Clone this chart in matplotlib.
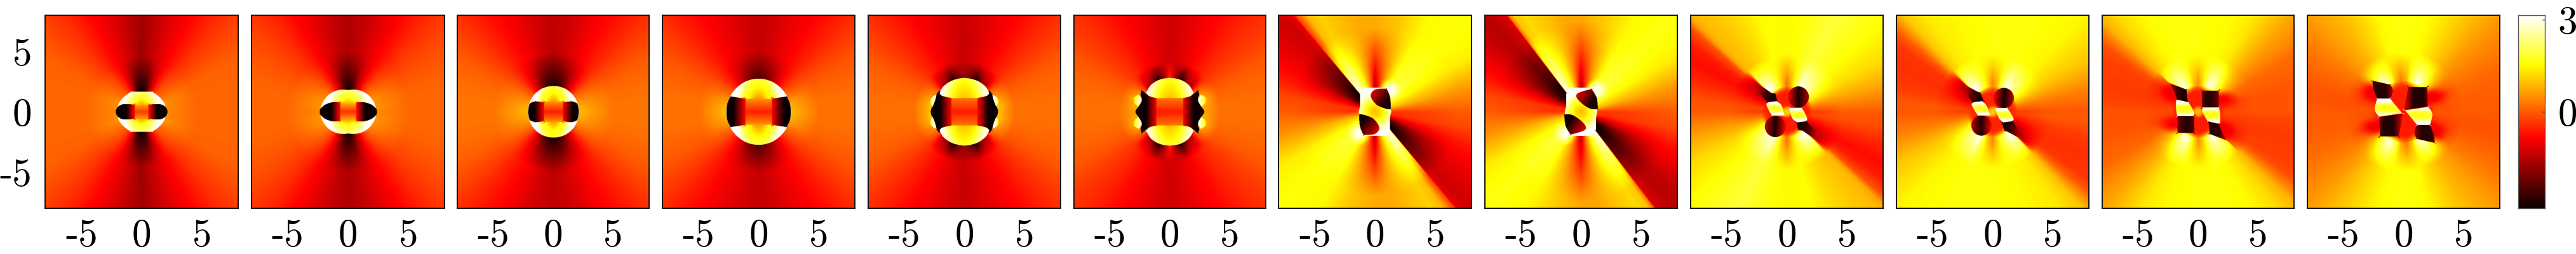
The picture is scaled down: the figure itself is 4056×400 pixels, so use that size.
import numpy as np
import matplotlib
matplotlib.use("Agg")
import matplotlib.pyplot as plt
from matplotlib.path import Path

# ---------- values (phase in radians, -pi .. pi) ----------
TICKS = [-5, 0, 5]
CBAR_TICKS = [0, 3]
VMIN, VMAX = -np.pi, np.pi

# Panels 1-6 have mirror symmetry: rim values for one quadrant, degrees from +x
QUAD_ANG = [0, 10, 20, 30, 40, 50, 60, 70, 80, 90]
P1_FAR = [.12, .12, .1, .05, -.15, -.4, -.75, -1.05, -1.4, -1.75]
P1_NEAR = [.5, .5, .6, .4, .2, .0, -.5, -1.6, -2.9, -3.1]
P2_FAR = [.12, .12, .08, -.05, -.2, -.45, -.8, -1.1, -1.4, -1.6]
P2_NEAR = [.5, .6, .6, .5, .3, .0, -.6, -1.5, -2.6, -3.0]
P3_FAR = [.25, .22, .15, .0, -.25, -.55, -.8, -1.05, -1.3, -1.45]
P3_NEAR = [.9, .8, .6, .3, -.1, -.8, -1.6, -2.4, -2.9, -3.0]
P4_FAR = [.22, .2, .1, -.05, -.3, -.6, -.85, -1.05, -1.25, -1.4]
P4_NEAR = [.9, .8, .6, .2, -.2, -.7, -1.3, -1.9, -2.3, -2.5]
P5_FAR = [.2, .18, .1, -.05, -.3, -.55, -.8, -1.0, -1.2, -1.35]
P5_NEAR = [.9, 1.0, .8, .5, -.1, -1.5, -1.9, -3.0, -2.3, -1.9]
P6_FAR = [.2, .18, .1, -.05, -.3, -.5, -.75, -.95, -1.15, -1.3]
P6_NEAR = [.7, .8, 1.0, .6, -.1, -1.5, -1.8, -3.0, -2.0, -.4]

# Panels 7-12 have point symmetry: rim values for one half turn
P7_ANG = [0, 15, 30, 45, 60, 75, 90, 100, 110, 120, 125, 129.5, 130.5, 135, 140, 150, 160, 170]
P7_FAR = [0, .6, 1.4, 1.6, 1.5, 1.0, .75, .75, .9, 1.1, .9, -.2, -1.1, -1.3, -1.2, -.95, -.65, -.2]
P7_NEAR = [-.4, .9, 1.6, 2.0, 1.8, .3, -1.6, .3, 1.7, 2.8, 3.1, 3.14, -3.14, -3.1, -3.0, -2.4, -1.2, -.4]
P8_ANG = [0, 15, 30, 45, 60, 75, 90, 100, 110, 120, 125, 127, 128, 135, 140, 150, 160, 170]
P8_FAR = [0, .6, 1.4, 1.65, 1.5, 1.05, .7, .7, .95, 1.2, 1.0, .3, -1.2, -1.5, -1.45, -1.05, -.7, -.2]
P8_NEAR = [-.4, .9, 1.6, 2.0, 1.8, .3, -1.6, .3, 1.7, 2.8, 3.1, 3.14, -3.14, -3.1, -3.0, -2.4, -1.2, -.4]
P9_ANG = [0, 13, 28, 45, 63, 80, 90, 104, 117, 127, 133, 136, 139, 145, 152, 161, 172]
P9_FAR = [0, .6, 1.2, 1.6, 1.9, 1.6, 1.5, 1.55, 1.2, 1.0, .9, .7, -.1, -.6, -.75, -.5, -.1]
P9_NEAR = [-.3, .4, 1.5, 2.6, 3.0, 1.0, .2, 1.4, 2.6, 3.1, 3.14, -2.8, -2.4, -1.8, -1.2, -.7, -.2]
P10_ANG = [0, 13, 28, 45, 63, 80, 90, 110, 125, 133, 136, 140, 145, 155, 165, 175]
P10_FAR = [-.05, .35, 1.0, 1.45, 1.6, 1.6, 1.6, 1.5, 1.35, 1.0, .6, .0, -.35, -.4, -.3, 0]
P10_NEAR = [-.3, .3, 1.3, 2.4, 3.0, 1.0, .4, 2.0, 3.0, 3.14, -2.8, -2.3, -1.6, -1.1, -.6, -.2]
P11_ANG = [0, 15, 30, 45, 60, 70, 80, 90, 100, 110, 120, 130, 135, 136, 140, 145, 150, 165, 175]
P11_FAR = [-.05, -.05, .15, .7, 1.35, 1.5, 1.55, 1.6, 1.6, 1.6, 1.5, 1.2, .9, .9, .4, -.1, -.25, -.3, -.2]
P11_NEAR = [-.2, -.4, .3, 1.4, 2.8, 2.8, 1.4, .5, 1.1, 2.3, 2.9, 2.7, 2.2, -1.0, -1.0, -.9, -.9, -.4, -.2]
P12_ANG = [0, 15, 25, 35, 45, 55, 65, 75, 85, 95, 105, 115, 125, 135, 145, 155, 165, 175]
P12_FAR = [0, .05, .15, .35, .6, .95, 1.25, 1.5, 1.6, 1.6, 1.5, 1.15, .85, .6, .3, .1, -.05, -.05]
P12_NEAR = [-.1, -.2, -.6, .1, 1.2, 2.4, 3.0, 2.2, .8, .3, 1.0, 2.5, 3.0, 2.0, -.3, -.8, -.4, -.1]

# Radii (data units) between which the near values turn into the far ones
P_RADII = [(1.6, 4.6), (1.9, 5), (2.1, 5), (2.75, 5), (2.8, 4.2), (2.8, 4.2),
           (1.9, 7), (1.9, 7.5), (2.4, 4.8), (2.4, 4.8), (2.5, 4.8), (2.7, 5)]

# Axis-range and panel edges (figure pixels)
AX_RANGE = 8
PANEL_LEFT = [71.4, 395.5, 719.6, 1043, 1367, 1691, 2013.4, 2338, 2662, 2986, 3310, 3633]
PANEL_RIGHT = [375, 700, 1022, 1346, 1670, 1993, 2317, 2641, 2965, 3289, 3612, 3936]
PANEL_TOP, PANEL_BOTTOM = 24, 328
CBAR_LEFT, CBAR_RIGHT = 3965, 4007


# ---------- helpers for outlines ----------
def q4(q):
    """Closed outline from a quadrant going from +y axis to +x axis."""
    a = list(q)
    b = [(p[0], -p[1]) + tuple(p[2:]) for p in q[-2:0:-1]]
    c = [(-p[0], -p[1]) + tuple(p[2:]) for p in q]
    d = [(-p[0], p[1]) + tuple(p[2:]) for p in q[-2:0:-1]]
    return a + b + c + d


def my(h):
    """Mirror an upper half over y=0 (last point lies on the axis)."""
    return list(h) + [(p[0], -p[1]) + tuple(p[2:]) for p in h[-2::-1]]


def mx(h):
    """Mirror a right half over x=0 (first and last points lie on the axis)."""
    return list(h) + [(-p[0], p[1]) + tuple(p[2:]) for p in h[-2:0:-1]]


def flipy(h):
    return [(p[0], -p[1]) + tuple(p[2:]) for p in h]


def oval(cx, cy, a, b):
    return [(cx + a * c, cy + b * s) for c, s in
            [(1, 0), (.7, .7), (0, 1), (-.7, .7), (-1, 0), (-.7, -.7), (0, -1), (.7, -.7)]]


def band(xin, y):
    """Rectangle between the two dark lobes of a panel."""
    return [(-xin, y, 1), (xin, y, 1), (xin, -y, 1), (-xin, -y, 1)]


# Each feature: (kind, outline, start, end, stops); every one is also drawn turned by 180 deg.
# 'L' linear from start to end, 'R' elliptical around start with half-axes end-start,
# 'S' soft blob around start, fading to nothing at the half-axes, 'H' the same with a plateau.
P1_SHAPES = [
    ('R', q4([(0, 1.67), (.88, 1.67, 1), (1.5, 1.2), (1.93, .61), (1.97, 0)]), (0, 0), (1.5, 2.2), [-.1, .6, 1.7, 2.3, 3.14]),
    ('R', band(.58, .6), (0, 0), (40, 2.2), [-.3, .6, 1.7, 2.3, 3.14]),
    ('L', my([(-.55, .6, 1), (-1.5, .63), (-1.95, .42), (-2.15, 0)]), (-.5, 0), (-1.25, 0), [-.4, -3.14]),
]
P2_SHAPES = [
    ('R', q4([(0, 1.82), (.9, 1.78), (1.7, 1.35), (2.2, .6), (2.27, 0)]), (0, 0), (1.7, 2.4), [-.2, .6, 1.7, 2.3, 3.14]),
    ('R', band(.68, .78), (0, 0), (40, 2.4), [-.4, .6, 1.7, 2.3, 3.14]),
    ('L', my([(-.65, .78, 1), (-1.25, .8), (-1.9, .6), (-2.3, .25), (-2.37, 0)]), (-.6, 0), (-1.4, 0), [-.5, -3.14]),
]
P3_SHAPES = [
    ('R', q4([(0, 2.14), (1.0, 1.9), (1.8, 1.15), (2.14, 0)]), (0, 0), (1.5, 3.0), [-.4, .4, 1.5, 2.0, 3.14]),
    ('R', band(.8, .85), (0, 0), (40, 3.0), [-.6, .4, 1.5, 2.0, 3.14]),
    ('L', my([(-.78, .8, 1), (-1.5, .87, 1), (-1.95, .7), (-2.08, .3), (-2.1, 0)]), (-.7, 0), (-1.6, 0), [-.6, -3.14]),
]
P4_SHAPES = [
    ('R', q4([(0, 2.75), (1.3, 2.4), (2.3, 1.4), (2.72, 0)]), (0, 0), (1.9, 3.8), [-.4, .4, 1.4, 2.0, 3.14]),
    ('R', band(1.12, 1.08), (0, 0), (40, 3.8), [-.6, .4, 1.4, 2.0, 3.14]),
    ('L', my([(-1.1, 1.08, 1), (-1.7, 1.18), (-2.35, 1.27, 1), (-2.6, .7), (-2.68, 0)]), (-1.0, 0), (-2.1, 0), [-.6, -3.14]),
]
P5_CRESCENT = [(-2.32, 1.42, 1), (-2.45, .9), (-2.65, .42, 1), (-2.85, .8), (-2.7, 1.2)]
P5_SHAPES = [
    ('L', my([(-1.05, 1.14, 1), (-1.7, 1.28), (-2.1, 1.75, 1), (-2.35, 1.42, 1), (-2.45, .9), (-2.7, .4), (-2.8, 0)]), (-1.0, 0), (-2.0, 0), [-.6, -3.14]),
    ('R', q4([(0, 1.3), (1.08, 1.3, 1), (1.08, 0)]), (0, 0), (40, 1.6), [-.6, .6]),
    ('R', mx([(0, 2.8), (1.0, 2.6), (1.75, 2.1), (2.06, 1.55, 1), (1.85, 1.32), (1.05, 1.14, 1), (0, 1.14)]), (0, .4), (2.0, 4.4), [.5, 1.1, 1.5, 2.4, 3.14]),
    ('L', P5_CRESCENT, (-2.45, .9), (-3.0, .9), [3.14, 1.4]),
    ('L', flipy(P5_CRESCENT), (-2.45, -.9), (-3.0, -.9), [3.14, 1.4]),
]
P6_BLOB = [(-2.6, 1.42, 1), (-2.35, .97), (-2.6, .45, 1), (-2.95, .7), (-3.0, 1.15)]
P6_SHAPES = [
    ('L', my([(-1.1, 1.14, 1), (-1.7, 1.28), (-2.35, 1.8, 1), (-2.45, 1.45, 1), (-2.35, .97), (-2.6, .45, 1), (-2.88, 0)]), (-1.0, 0), (-2.0, 0), [-.6, -3.14]),
    ('R', q4([(0, 1.3), (1.12, 1.3, 1), (1.12, 0)]), (0, 0), (40, 1.6), [-.6, .6]),
    ('R', mx([(0, 2.8), (.9, 2.65), (1.6, 2.2), (1.98, 1.58, 1), (1.7, 1.3), (1.1, 1.14, 1), (0, 1.14)]), (0, .4), (2.0, 4.4), [.5, 1.1, 1.5, 2.4, 3.14]),
    ('L', P6_BLOB, (-2.4, .95), (-3.15, .95), [3.14, 1.0]),
    ('L', flipy(P6_BLOB), (-2.4, -.95), (-3.15, -.95), [3.14, 1.0]),
]
P7_CORE = [(-1.25, 1.45, 1), (-1.25, .55), (-1.3, .18, 1), (-1.33, -.3), (-.9, -2.0, 1), (.9, -2.0, 1), (1.25, -1.45, 1),
           (1.25, -.55), (1.3, -.18, 1), (1.33, .3), (.9, 2.0, 1), (-.9, 2.0, 1)]
P7_SHAPES = [
    ('S', None, (1.3, 1.8), (1.1, 1.1), [3.1]),
    ('R', P7_CORE, (0, 0), (1.7, 1.7), [.9, 1.2, 1.8, 2.6, 3.14]),
    ('L', [(-.35, 1.32), (0, 1.84), (.96, 1.93, 1), (1.25, 1.2), (1.32, .21, 1), (.88, .26), (.09, .61)], (-.3, 1.9), (1.0, .9), [-.9, -3.0]),
]
P8_SHAPES = [
    ('S', None, (1.3, 1.8), (1.1, 1.1), [3.1]),
    ('R', P7_CORE, (0, 0), (1.7, 1.7), [.9, 1.2, 1.8, 2.6, 3.14]),
    ('L', [(-.39, 1.23), (-.2, 1.58), (.88, 1.9, 1), (1.3, 1.15), (1.4, .21, 1), (.75, .26), (.05, .7)], (-.3, 1.8), (1.0, .9), [-.9, -3.0]),
]
P9_SHAPES = [
    ('H', None, (0, 0), (2.1, 2.1), [-.6]),
    ('S', None, (0, 0), (.6, .6), [1.1]),
    ('L', [(-2.45, 2.37, 1), (-1.32, 1.58, 1), (-.95, 1.5, 1), (-.8, .88, 1), (-1.65, .8, 1), (-2.2, 1.5)], (-.9, 1.2), (-2.6, 1.9), [-3.1, -2.6, -1.2]),
    ('L', oval(.96, 1.23, .88, .88), (.1, 1.3), (1.8, 1.2), [-.9, -3.0, -1.6]),
    ('R', [(-1.67, .7), (-.88, .88, 1), (-.44, .53), (-.18, -.32, 1), (-1.23, -.32, 1), (-1.49, .09)], (-.9, .25), (.9, .7), [1.6, 2.0, 3.14]),
]
P10_SHAPES = [
    ('H', None, (0, 0), (2.1, 2.1), [-.5]),
    ('S', None, (0, 0), (.6, .6), [1.1]),
    ('L', [(-2.4, 2.28, 1), (-1.26, 1.67, 1), (-1.0, 1.58, 1), (-.74, .88, 1), (-1.7, .79, 1), (-2.1, 1.5)], (-.9, 1.2), (-2.6, 1.9), [-3.1, -2.4, -.9]),
    ('L', oval(.93, 1.14, .85, .85), (.1, 1.2), (1.8, 1.1), [-.9, -3.0, -1.4]),
    ('R', [(-1.72, .7), (-.9, .88, 1), (-.5, .5), (-.2, -.32, 1), (-1.2, -.32, 1), (-1.5, .1)], (-.95, .25), (.9, .7), [1.6, 2.0, 3.14]),
]
P11_SHAPES = [
    ('H', None, (0, 0), (2.2, 2.2), [-.6]),
    ('S', None, (2.0, 1.05), (1.7, .95), [-1.0]),
    ('S', None, (-2.3, 1.6), (1.1, 1.0), [-1.0]),
    ('S', None, (0, 0), (.6, .6), [.9]),
    ('L', [(-2.37, 2.37, 1), (-.96, 1.84, 1), (-.9, 1.05), (-.79, .79, 1), (-1.75, 1.02, 1), (-2.0, 1.7)], (-.9, 1.5), (-2.7, 1.9), [-3.0, -2.7, -.9]),
    ('L', [(.32, 1.75, 1), (1.72, 1.75, 1), (1.72, .35, 1), (.32, .35, 1)], (0, 1.05), (2.0, 1.05), [-1.2, -2.7, -2.9, -2.5, -1.3]),
    ('R', [(-1.84, .96, 1), (-1.6, .96), (-.8, .79, 1), (-.35, 0), (-.4, -.36, 1), (-1.75, -.36, 1), (-1.85, .3)], (-1.05, .25), (.95, .8), [1.6, 1.9, 3.14]),
]
P12_SHAPES = [
    ('H', None, (0, 0), (2.6, 2.6), [-.6]),
    ('S', None, (2.3, 1.25), (1.8, 1.0), [-1.0]),
    ('S', None, (-2.6, 1.7), (1.3, 1.1), [-1.0]),
    ('L', [(-2.6, 2.58, 1), (-1.09, 2.25, 1), (-.9, 1.75), (-1.09, 1.09, 1), (-2.2, 1.09, 1), (-2.5, 1.9)], (-.6, 1.7), (-3.3, 1.7), [-1.2, -2.9, -2.8, -1.0]),
    ('L', [(.4, 2.05, 1), (1.98, 2.05, 1), (2.0, .44, 1), (.05, .14, 1)], (0, 1.2), (2.5, 1.2), [-1.0, -2.9, -2.9, -1.3]),
    ('R', [(-2.2, 1.09, 1), (-1.12, 1.09, 1), (-.12, -.12, 1), (-2.05, -.4, 1), (-2.4, .18)], (-1.3, .3), (1.2, .9), [1.6, 1.9, 3.14]),
]

RIMS = [
    (QUAD_ANG, P1_FAR, P1_NEAR, P1_SHAPES), (QUAD_ANG, P2_FAR, P2_NEAR, P2_SHAPES),
    (QUAD_ANG, P3_FAR, P3_NEAR, P3_SHAPES), (QUAD_ANG, P4_FAR, P4_NEAR, P4_SHAPES),
    (QUAD_ANG, P5_FAR, P5_NEAR, P5_SHAPES), (QUAD_ANG, P6_FAR, P6_NEAR, P6_SHAPES),
    (P7_ANG, P7_FAR, P7_NEAR, P7_SHAPES), (P8_ANG, P8_FAR, P8_NEAR, P8_SHAPES),
    (P9_ANG, P9_FAR, P9_NEAR, P9_SHAPES), (P10_ANG, P10_FAR, P10_NEAR, P10_SHAPES),
    (P11_ANG, P11_FAR, P11_NEAR, P11_SHAPES), (P12_ANG, P12_FAR, P12_NEAR, P12_SHAPES),
]

# ---------- rendering ----------
N = 760
xs = np.linspace(-AX_RANGE, AX_RANGE, N)
GX, GY = np.meshgrid(xs, xs)
PTS = np.column_stack([GX.ravel(), GY.ravel()])
RR = np.hypot(GX, GY)
TH = np.degrees(np.arctan2(GY, GX)) % 360


def smooth(pts):
    """Closed Catmull-Rom outline; points with a third entry stay sharp corners."""
    ctrl = []
    for p in pts:
        ctrl.append(p[:2])
        if len(p) > 2:
            ctrl.append(p[:2])
    c = np.array(ctrl, float)
    n = len(c)
    out = []
    for i in range(n):
        p0, p1, p2, p3 = c[i - 1], c[i], c[(i + 1) % n], c[(i + 2) % n]
        for t in np.linspace(0, 1, 10, endpoint=False):
            out.append(.5 * (2 * p1 + (p2 - p0) * t + (2 * p0 - 5 * p1 + 4 * p2 - p3) * t ** 2
                             + (3 * p1 - p0 - 3 * p2 + p3) * t ** 3))
    return np.array(out)


def paint(field, kind, outline, start, end, stops, sign):
    x0, y0 = start[0] * sign, start[1] * sign
    x1, y1 = end[0] * sign, end[1] * sign
    if kind in 'SH':
        s = np.hypot((GX - x0) / abs(end[0]), (GY - y0) / abs(end[1]))
        if kind == 'S':
            w = np.clip(1 - s, 0, 1)
            w = w * w * (3 - 2 * w)
        else:
            w = np.clip((1 - s) / .3, 0, 1)
        field[:] = field * (1 - w) + stops[0] * w
        return
    path = Path(smooth(outline) * sign)
    mask = path.contains_points(PTS).reshape(GX.shape)
    if kind == 'L':
        dx, dy = x1 - x0, y1 - y0
        s = ((GX - x0) * dx + (GY - y0) * dy) / (dx * dx + dy * dy)
    else:
        s = np.hypot((GX - x0) / abs(end[0] - start[0]), (GY - y0) / abs(end[1] - start[1]))
    v = np.interp(np.clip(s, 0, 1), np.linspace(0, 1, len(stops)), stops)
    field[mask] = v[mask]


def expand(ang, far, near):
    ang, far, near = list(ang), list(far), list(near)
    if ang[-1] == 90:  # quadrant -> half turn by mirroring
        ang = ang + [180 - a for a in ang[-2::-1]]
        far = far + far[-2::-1]
        near = near + near[-2::-1]
        ang, far, near = ang[:-1], far[:-1], near[:-1]
    return (ang + [a + 180 for a in ang], far + far, near + near)


def build(spec, radii):
    ang, far, near, shapes = spec
    ang, far, near = expand(ang, far, near)
    f = np.interp(TH, ang, far, period=360)
    n = np.interp(TH, ang, near, period=360)
    w = np.clip((RR - radii[0]) / (radii[1] - radii[0]), 0, 1)
    field = n * (1 - w) + f * w
    for kind, outline, start, end, stops in shapes:
        paint(field, kind, outline, start, end, stops, 1)
        paint(field, kind, outline, start, end, stops, -1)
    return field


W, H = 4056, 400
plt.rcParams['font.family'] = ['cmr10', 'DejaVu Serif']
plt.rcParams['axes.formatter.use_mathtext'] = True
FS = 44
fig = plt.figure(figsize=(W / 100, H / 100), dpi=100, facecolor='white')

for i, spec in enumerate(RIMS):
    l, r = PANEL_LEFT[i], PANEL_RIGHT[i]
    ax = fig.add_axes([l / W, 1 - PANEL_BOTTOM / H, (r - l) / W, (PANEL_BOTTOM - PANEL_TOP) / H])
    ax.imshow(build(spec, P_RADII[i]), origin='lower', cmap='hot', vmin=VMIN, vmax=VMAX,
              extent=(-AX_RANGE, AX_RANGE, -AX_RANGE, AX_RANGE), aspect='auto', interpolation='antialiased')
    ax.set_xticks(TICKS)
    ax.set_xticklabels([str(t) for t in TICKS], fontsize=FS)
    ax.tick_params(axis='x', length=0, pad=12)
    if i == 0:
        ax.set_yticks(TICKS)
        ax.set_yticklabels([str(t) for t in TICKS], fontsize=FS)
        ax.tick_params(axis='y', length=0, pad=15)
    else:
        ax.set_yticks([])
    for s in ax.spines.values():
        s.set_linewidth(1.4)
        s.set_color('#111111')

cax = fig.add_axes([CBAR_LEFT / W, 1 - PANEL_BOTTOM / H, (CBAR_RIGHT - CBAR_LEFT) / W, (PANEL_BOTTOM - PANEL_TOP) / H])
grad = np.linspace(VMIN, VMAX, 256).reshape(-1, 1)
cax.imshow(grad, origin='lower', cmap='hot', vmin=VMIN, vmax=VMAX, aspect='auto', extent=(0, 1, VMIN, VMAX))
cax.set_xticks([])
cax.yaxis.tick_right()
cax.set_yticks(CBAR_TICKS)
cax.set_yticklabels([str(t) for t in CBAR_TICKS], fontsize=FS)
cax.tick_params(axis='y', direction='in', length=3, width=1, pad=15, color='#222222')
for s in cax.spines.values():
    s.set_linewidth(1.0)
    s.set_color('#555555')

fig.savefig('out.png', dpi=100, facecolor='white')
